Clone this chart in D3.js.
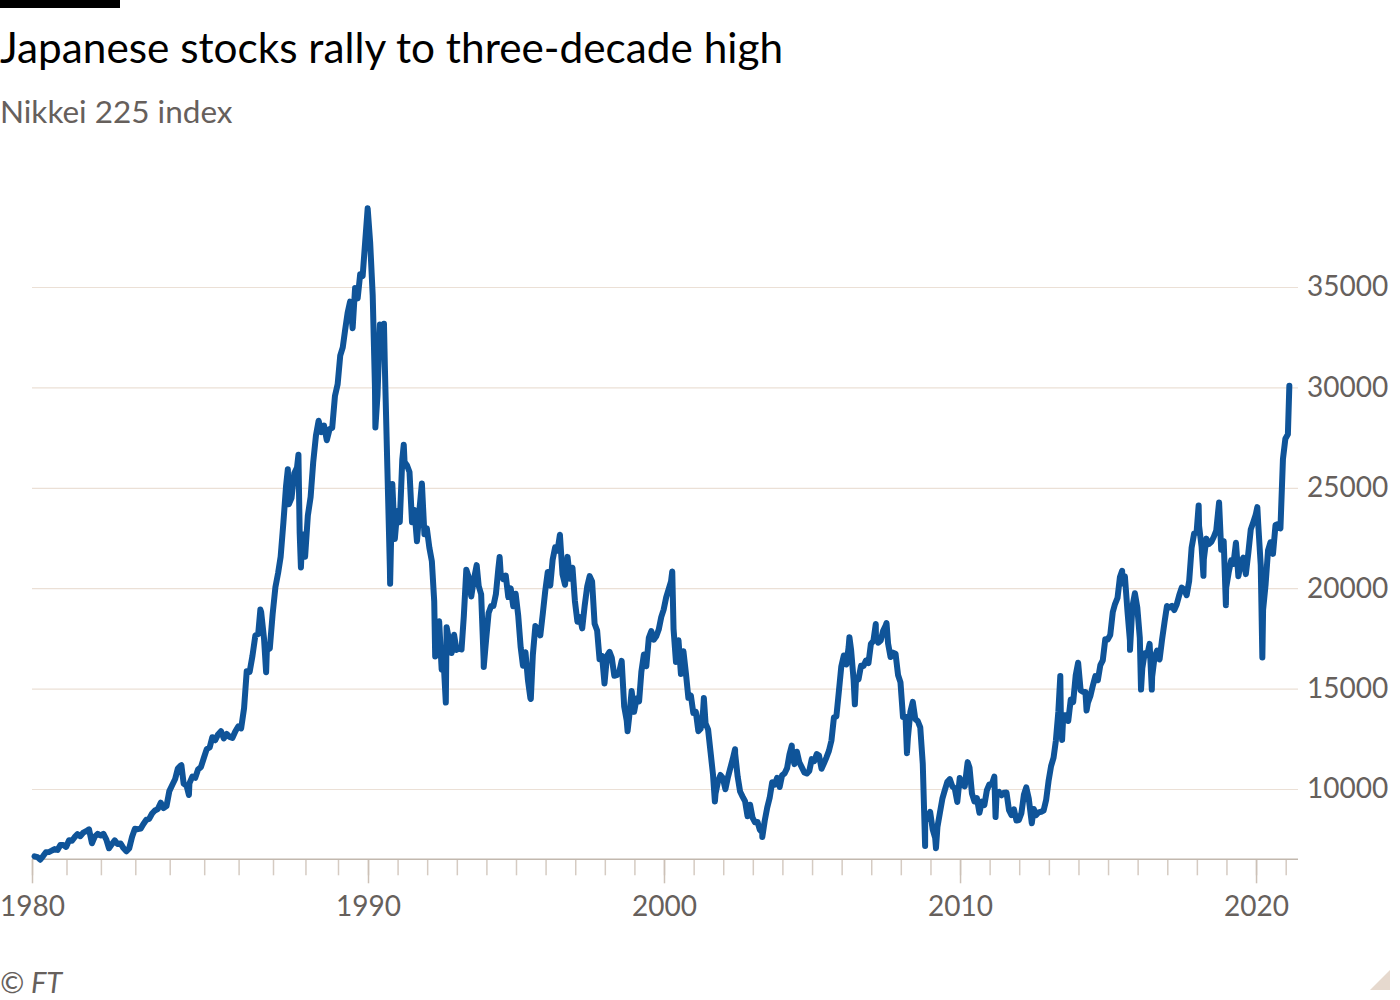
<!DOCTYPE html>
<html>
<head>
<meta charset="utf-8">
<script src="https://cdn.jsdelivr.net/npm/d3@7"></script>
<style>
  html, body { margin: 0; padding: 0; background: #ffffff; }
  svg { display: block; }
  text { font-family: Lato, "Noto Sans", sans-serif; }
</style>
</head>
<body>
<svg id="chart" width="1400" height="1000"></svg>
<script>
// ---------------- DATA ----------------
const titleText = "Japanese stocks rally to three-decade high";
const subtitleText = "Nikkei 225 index";
const sourceText = "© FT";

// Month-end closes, Jan 1980 onward (one row per year)
const firstYear = 1980;
const monthlyValues = [
  6650, 6610, 6480, 6660, 6850, 6860, 6930, 7010, 6970, 7210, 7210, 7116,        // 1980
  7450, 7420, 7600, 7750, 7650, 7830, 7900, 7990, 7300, 7630, 7770, 7682,        // 1981
  7770, 7480, 7050, 7260, 7440, 7260, 7290, 7060, 6900, 7040, 7620, 8017,        // 1982
  8000, 8030, 8260, 8470, 8510, 8780, 8930, 9000, 9320, 9050, 9150, 9894,        // 1983
  10200, 10500, 11030, 11170, 10270, 10160, 10280, 10620, 10560, 10970, 11100, 11543, // 1984
  11990, 12070, 12580, 12430, 12720, 12880, 12520, 12740, 12600, 12550, 12880, 13113, // 1985
  13020, 14020, 15860, 15830, 16630, 17650, 17720, 18820, 17480, 16910, 17000, 18701, // 1986
  20050, 20770, 21570, 23270, 25100, 24180, 24490, 25720, 26010, 22770, 22690, 21564, // 1987
  23620, 24540, 26260, 27600, 28340, 27770, 28100, 27370, 27920, 27990, 29580, 30159, // 1988
  31580, 31990, 32840, 33710, 34270, 32950, 34950, 34430, 35640, 35550, 37270, 38916, // 1989
  37190, 34590, 29980, 29590, 33130, 31940, 31040, 25980, 20980, 25190, 22450, 23849, // 1990
  23290, 26410, 26290, 26110, 25790, 23290, 23900, 22340, 23920, 25220, 22690, 22984, // 1991
  22020, 21340, 19350, 17390, 18350, 15950, 15910, 18060, 17400, 16770, 17680, 16925, // 1992
  17020, 16950, 18590, 20920, 20550, 19590, 20380, 21030, 20110, 19700, 16410, 17417, // 1993
  18760, 19110, 19110, 19700, 20970, 20640, 20450, 20630, 19560, 19990, 19100, 19723, // 1994
  18650, 17050, 16140, 16810, 15440, 14520, 16680, 18120, 17910, 17650, 18740, 19868, // 1995
  20810, 20130, 21410, 22040, 21880, 22530, 20690, 20170, 21560, 20470, 21020, 19361, // 1996
  18330, 18560, 18000, 19150, 20070, 20600, 20330, 18230, 17890, 16460, 16630, 15259, // 1997
  16630, 16830, 16530, 15640, 15670, 15830, 16380, 14110, 13410, 13560, 14880, 13842, // 1998
  14500, 14370, 15840, 16700, 16110, 17530, 17860, 17440, 17610, 17940, 18560, 18934, // 1999
  19540, 19960, 20340, 17970, 16330, 17410, 15730, 16860, 15750, 14540, 14650, 13786, // 2000
  13840, 12880, 13000, 13930, 13260, 12970, 11860, 10710, 9770, 10370, 10700, 10543,  // 2001
  9990, 10590, 11025, 11490, 11760, 10620, 9880, 9620, 9380, 8640, 9220, 8579,        // 2002
  8340, 8360, 7970, 7830, 8420, 9080, 9560, 10340, 10220, 10560, 10100, 10677,        // 2003
  10780, 11040, 11720, 11760, 11240, 11860, 11330, 11080, 10820, 10770, 10900, 11489, // 2004
  11390, 11740, 11670, 11010, 11280, 11580, 11900, 12410, 13570, 13610, 14870, 16111, // 2005
  16650, 16200, 17060, 16910, 15470, 15500, 15460, 16140, 16130, 16400, 16270, 17226, // 2006
  17380, 17600, 17290, 17400, 17880, 18140, 17250, 16570, 16790, 16740, 15680, 15308, // 2007
  13590, 13600, 12530, 13850, 14340, 13480, 13380, 13070, 11260, 8580, 8510, 8860,    // 2008
  7990, 7570, 8110, 8830, 9520, 9960, 10360, 10490, 10130, 10030, 9350, 10546,        // 2009
  10200, 10130, 11090, 11060, 9770, 9380, 9540, 8820, 9370, 9200, 9940, 10229,        // 2010
  10240, 10620, 9760, 9850, 9690, 9820, 9830, 8950, 8700, 8990, 8430, 8455,           // 2011
  8800, 9720, 10080, 9520, 8540, 9010, 8700, 8840, 8870, 8930, 9450, 10395,           // 2012
  11140, 11560, 12400, 13860, 13770, 13680, 13670, 13390, 14460, 14330, 15660, 16291, // 2013
  14910, 14840, 14830, 14300, 14630, 15160, 15620, 15420, 16170, 16410, 17460, 17451, // 2014
  17670, 18800, 19210, 19520, 20560, 20240, 20590, 18890, 17390, 19080, 19750, 19034, // 2015
  17520, 16030, 16760, 16670, 17230, 15580, 16570, 16890, 16450, 17430, 18310, 19114, // 2016
  19040, 19120, 18910, 19200, 19650, 20030, 19930, 19650, 20360, 22010, 22720, 22765, // 2017
  23100, 22070, 21450, 22470, 22200, 22300, 22550, 22870, 24120, 21920, 22350, 20015, // 2018
  20770, 21390, 21210, 22260, 20600, 21280, 21520, 20700, 21760, 22930, 23290, 23657, // 2019
  23200, 21140, 18920, 20190, 21880, 22290, 21710, 23140, 23190, 22980, 26430, 27444, // 2020
  27663                                                                                 // 2021
];

// Intra-month highs and lows visible in the chart
const extremeDates = [
  "1984-05-04", "1984-07-23", "1986-08-20", "1986-10-20", "1987-06-17", "1987-10-14",
  "1987-11-11", "1990-04-02", "1990-07-17", "1990-10-01", "1991-03-18", "1992-04-09",
  "1992-08-18", "1993-09-03", "1993-11-29", "1994-06-13", "1995-07-03", "1996-06-26",
  "1998-10-09", "2000-04-12", "2001-05-07", "2001-09-20", "2002-05-27", "2003-04-28",
  "2004-04-26", "2006-04-07", "2006-06-13", "2007-02-26", "2007-07-09", "2008-03-17",
  "2008-10-27", "2009-03-10", "2010-04-05", "2011-03-15", "2012-06-04", "2013-05-22",
  "2013-06-13", "2014-04-11", "2015-06-24", "2015-09-29", "2016-02-12", "2016-06-24",
  "2018-01-23", "2018-03-23", "2018-10-02", "2018-12-25", "2020-01-17", "2020-03-19",
  "2021-02-15"
];
const extremeValues = [
  11190, 9703, 18936, 15820, 25929, 26646,
  21036, 28002, 33172, 20222, 27146, 16598,
  14309, 21148, 16078, 21552, 14485, 22666,
  12879, 20833, 14529, 9382, 11979, 7607,
  12163, 17563, 14218, 18215, 18262, 11787,
  7162, 7055, 11339, 8605, 8295, 15627,
  12445, 13910, 20868, 16930, 14952, 14952,
  24124, 20617, 24270, 19155, 24041, 16553,
  30084
];

const yTicks = [10000, 15000, 20000, 25000, 30000, 35000];
const xMajorTicks = [1980, 1990, 2000, 2010, 2020];

// ---------------- BUILD SERIES ----------------
const parse = d3.timeParse("%Y-%m-%d");
const series = [];
monthlyValues.forEach((v, i) => {
  series.push({ date: new Date(firstYear, i, 28), value: v });
});
extremeDates.forEach((d, i) => series.push({ date: parse(d), value: extremeValues[i] }));
series.sort((a, b) => a.date - b.date);

// ---------------- LAYOUT ----------------
const svg = d3.select("#chart");
const plotLeft = 32, plotRight = 1298, plotBottom = 859.3;

// Axis spacing in the original widens through the 1980s
const x = d3.scaleTime()
  .domain([new Date(1980, 0, 1), new Date(1987, 0, 1), new Date(1989, 0, 1), new Date(1990, 0, 1), new Date(2021, 0, 1)])
  .range([32, 273, 338, 368, 1285.7]);

const y = d3.scaleLinear().domain([6500, 35000]).range([plotBottom, 287]);

// Top black bar
svg.append("rect").attr("x", 0).attr("y", 0).attr("width", 120).attr("height", 8).attr("fill", "#000");

// Title & subtitle
svg.append("text").attr("x", 0).attr("y", 63)
  .attr("font-size", 42.3).attr("fill", "#000").text(titleText);
svg.append("text").attr("x", 0).attr("y", 123)
  .attr("font-size", 31.5).attr("fill", "#66605c").text(subtitleText);

// Gridlines + right-side y labels
const yAxis = d3.axisRight(y).tickValues(yTicks).tickSize(plotRight - plotLeft).tickPadding(9)
  .tickFormat(d3.format("d"));
const gy = svg.append("g").attr("transform", `translate(${plotLeft},0)`).call(yAxis);
gy.select(".domain").remove();
gy.selectAll(".tick line").attr("stroke", "#ebe0d6").attr("stroke-width", 1.2);
gy.selectAll(".tick text").attr("font-size", 28).attr("fill", "#66605c")
  .attr("font-family", "Lato, 'Noto Sans', sans-serif");

// X axis: minor yearly ticks + major decade ticks
const yearTicks = d3.range(1980, 2022).map(yy => new Date(yy, 0, 1));
const xMinor = d3.axisBottom(x).tickValues(yearTicks).tickSize(16).tickFormat("");
const gxMinor = svg.append("g").attr("transform", `translate(0,${plotBottom})`).call(xMinor);
gxMinor.select(".domain").remove();
gxMinor.selectAll(".tick line").attr("stroke", "#d5cbc2").attr("stroke-width", 1.5);

const xMajor = d3.axisBottom(x).tickValues(xMajorTicks.map(yy => new Date(yy, 0, 1)))
  .tickSize(24).tickPadding(13).tickFormat(d3.timeFormat("%Y"));
const gxMajor = svg.append("g").attr("transform", `translate(0,${plotBottom})`).call(xMajor);
gxMajor.select(".domain").remove();
gxMajor.selectAll(".tick line").attr("stroke", "#ccc1b7").attr("stroke-width", 1.5);
gxMajor.selectAll(".tick text").attr("font-size", 28).attr("fill", "#66605c")
  .attr("font-family", "Lato, 'Noto Sans', sans-serif");

svg.append("line").attr("x1", plotLeft).attr("x2", plotRight)
  .attr("y1", plotBottom).attr("y2", plotBottom)
  .attr("stroke", "#c2b8ae").attr("stroke-width", 1.5);

// Line
const line = d3.line().x(d => x(d.date)).y(d => y(d.value));
svg.append("path").datum(series)
  .attr("d", line)
  .attr("fill", "none")
  .attr("stroke", "#0f5499")
  .attr("stroke-width", 6)
  .attr("stroke-linejoin", "round")
  .attr("stroke-linecap", "round");

// Source
svg.append("text").attr("x", 0).attr("y", 993)
  .attr("font-size", 29).attr("font-style", "italic").attr("fill", "#66605c").text(sourceText);

// Corner triangle
svg.append("path").attr("d", "M1390,970 L1390,990 L1370,990 Z").attr("fill", "#e6d9ce");
</script>
</body>
</html>
